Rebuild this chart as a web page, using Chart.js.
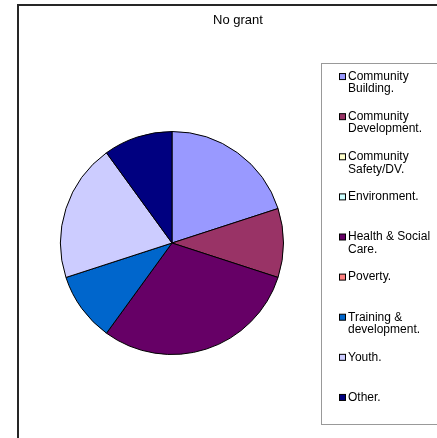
<!DOCTYPE html>
<html>
<head>
<meta charset="utf-8">
<script src="https://cdn.jsdelivr.net/npm/chart.js@4/dist/chart.umd.min.js"></script>
<style>
  html, body { margin: 0; padding: 0; background: #fff; }
  #wrap { width: 437px; height: 438px; }
</style>
</head>
<body>
<div id="wrap"><canvas id="grafica" width="437" height="438"></canvas></div>
<script>
// datos del grafico
const titulo = 'No grant';
const categorias = [
  ['Community', 'Building.'],
  ['Community', 'Development.'],
  ['Community', 'Safety/DV.'],
  ['Environment.'],
  ['Health & Social', 'Care.'],
  ['Poverty.'],
  ['Training &', 'development.'],
  ['Youth.'],
  ['Other.']
];
const valores = [2, 1, 0, 0, 3, 0, 1, 2, 1];
const colores = ['#9999FF', '#993366', '#FFFFCC', '#CCFFFF', '#660066', '#FF8080', '#0066CC', '#CCCCFF', '#000080'];

const fuente = '"Liberation Sans", Arial, sans-serif';

// marco, titulo y leyenda estilo Excel
const marcoExcel = {
  id: 'marcoExcel',
  beforeDraw(chart) {
    const ctx = chart.ctx;
    ctx.save();
    ctx.fillStyle = '#fff';
    ctx.fillRect(0, 0, chart.width, chart.height);
    ctx.strokeStyle = '#262626';
    ctx.lineWidth = 2;
    ctx.strokeRect(18, 5, 440, 460);
    ctx.restore();
  },
  afterDraw(chart) {
    const ctx = chart.ctx;
    ctx.save();
    // titulo
    ctx.fillStyle = '#000';
    ctx.font = '13px ' + fuente;
    ctx.textAlign = 'center';
    ctx.textBaseline = 'middle';
    ctx.fillText(titulo, 238, 20);

    // caja de leyenda
    const top = 63, bottom = 424, left = 321.5;
    ctx.strokeStyle = '#999';
    ctx.lineWidth = 1;
    ctx.strokeRect(left, top + 0.5, 120, bottom - top);

    const slot = (bottom - top) / categorias.length;
    ctx.font = '12px ' + fuente;
    ctx.textAlign = 'left';
    categorias.forEach((lineas, i) => {
      const y1 = top + slot * i + slot / 2 - 6.5;
      ctx.fillStyle = colores[i];
      ctx.fillRect(339.5, y1 - 3, 6, 6);
      ctx.strokeStyle = '#000';
      ctx.strokeRect(339.5, y1 - 3, 6, 6);
      ctx.fillStyle = '#000';
      lineas.forEach((t, j) => ctx.fillText(t, 348, y1 + j * 12.5));
    });
    ctx.restore();
  }
};

new Chart(document.getElementById('grafica'), {
  type: 'pie',
  data: {
    labels: categorias.map(l => l.join(' ')),
    datasets: [{
      data: valores,
      backgroundColor: colores,
      borderColor: '#000',
      borderWidth: 1
    }]
  },
  options: {
    responsive: false,
    animation: false,
    layout: { padding: { left: 60, top: 131, right: 153, bottom: 83 } },
    plugins: {
      legend: { display: false },
      title: { display: false },
      tooltip: { enabled: false }
    }
  },
  plugins: [marcoExcel]
});
</script>
</body>
</html>
